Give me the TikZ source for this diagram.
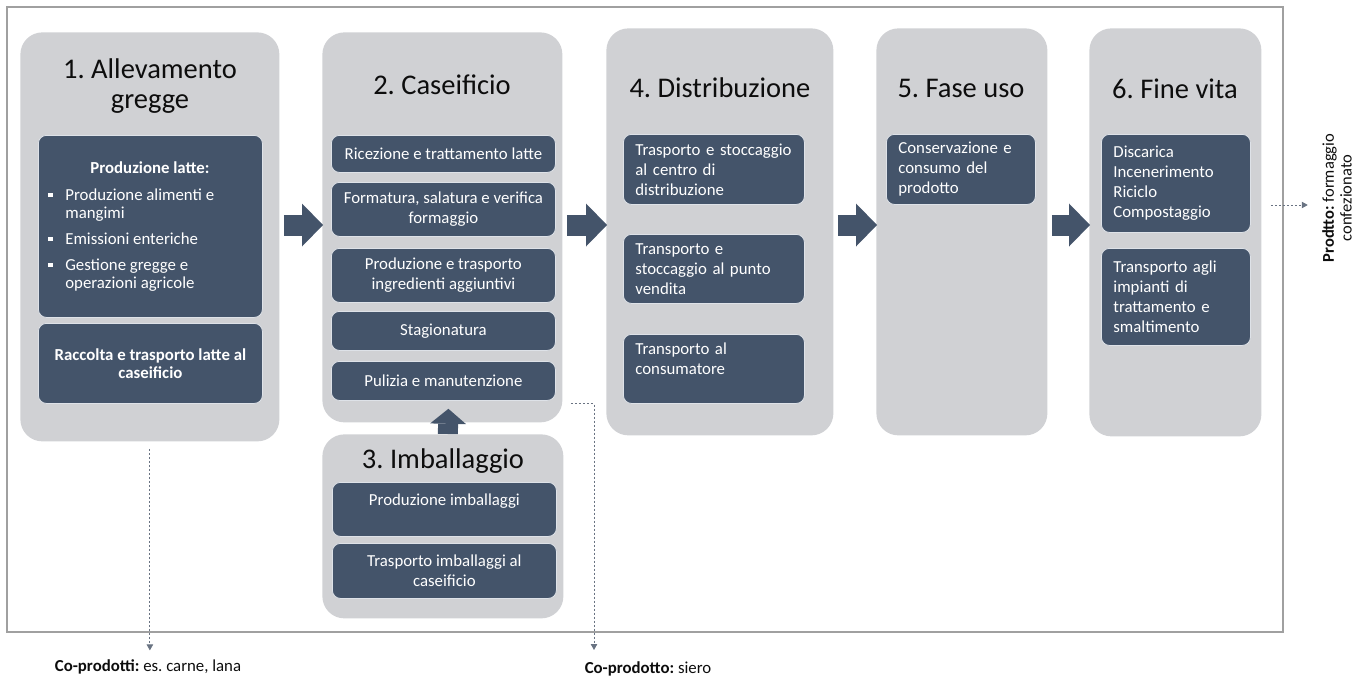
\documentclass[tikz,border=0pt]{standalone}
\usepackage{fontspec}
\setmainfont{Carlito}
\usetikzlibrary{arrows.meta,calc}
\frenchspacing

\definecolor{phasegray}{RGB}{208,209,212}
\definecolor{stepblue}{RGB}{68,84,106}
\definecolor{stepedge}{RGB}{222,226,232}
\definecolor{framegray}{RGB}{160,160,160}
\definecolor{dashgray}{RGB}{105,115,130}
\definecolor{titleblack}{RGB}{13,13,13}

\newcommand{\titlefont}{\fontsize{28.5}{31}\selectfont}
\newcommand{\stepfont}{\fontsize{16.8}{20}\selectfont}
\newcommand{\notefont}{\fontsize{16.8}{18}\selectfont}
\newcommand{\bul}{\makebox[17pt][l]{\rule[3pt]{4.5pt}{4.5pt}}}
\newcommand{\ind}{\hspace*{17pt}}

\tikzset{every picture/.style={line width=0.75pt}}
\tikzset{
  phase/.style={fill=phasegray, rounded corners=22pt, anchor=north west, inner sep=0pt},
  phasetitle/.style={anchor=base, inner sep=0pt, font=\titlefont, text=titleblack},
  stepbox/.style={fill=stepblue, draw=stepedge, line width=0.8pt, rounded corners=8pt, anchor=north west, inner xsep=6pt, inner ysep=0pt, text=white, font=\stepfont, align=center},
  stepleft/.style={stepbox, inner xsep=12pt, align=left},
  bigarrow/.style={stepblue, line width=21pt, -{Triangle[length=21pt,width=43pt,line width=0pt]}},
  uparrow/.style={stepblue, line width=20pt, -{Triangle[length=15pt,width=36pt,line width=0pt]}},
  dashline/.style={dashgray, line width=0.8pt, dash pattern=on 2.5pt off 1.5pt, -{Triangle[length=6pt,width=6.5pt]}},
  note/.style={inner sep=0pt, font=\notefont, align=center, text=titleblack}
}

\begin{document}
\begin{tikzpicture}[x=1pt,y=1pt,yscale=-1]
\useasboundingbox (0,0) rectangle (1364,680);

%Frame
\draw[framegray, line width=1.5pt] (7,7) rectangle (1283,632);

%Phase boxes
\node[phase, minimum width=259, minimum height=409] (phase1) at (20,32) {};
\node[phase, minimum width=240, minimum height=390] (phase2) at (322,32) {};
\node[phase, minimum width=241, minimum height=184] (phase3) at (322,434) {};
\node[phase, minimum width=227, minimum height=407] (phase4) at (606,28) {};
\node[phase, minimum width=171, minimum height=407] (phase5) at (876,28) {};
\node[phase, minimum width=172, minimum height=408] (phase6) at (1089,28) {};

% Text Node
\node[phasetitle] (title1) at (150,78) {1. Allevamento};
\node[phasetitle] (title1b) at (150,108) {gregge};
\node[phasetitle] (title2) at (442,94) {2. Caseificio};
\node[phasetitle] (title3) at (443,468) {3. Imballaggio};
\node[phasetitle] (title4) at (720,97) {4. Distribuzione};
\node[phasetitle] (title5) at (961,97) {5. Fase uso};
\node[phasetitle] (title6) at (1175,98) {6. Fine vita};

%1. Allevamento gregge
\node[stepbox, minimum width=224, minimum height=182] (latte) at (38,135) {};
\node[anchor=base, inner sep=0pt, font=\stepfont\bfseries, text=white] (lattehead) at (150,173) {Produzione latte:};
\node[anchor=north west, inner sep=0pt, font=\fontsize{16.8}{18}\selectfont, text=white, align=left] (lattelist) at (48,188)
  {\bul Produzione alimenti e\\\ind mangimi\\[8pt]\bul Emissioni enteriche\\[8pt]\bul Gestione gregge e\\\ind operazioni agricole};
\node[stepbox, minimum width=224, minimum height=80, font=\fontsize{16.8}{18}\selectfont\bfseries] (raccolta) at (38,323) {Raccolta e trasporto latte al\\caseificio};

%2. Caseificio
\node[stepbox, minimum width=224, minimum height=37] (ricezione) at (331,135) {Ricezione e trattamento latte};
\node[stepbox, minimum width=224, minimum height=54] (formatura) at (331,182) {Formatura, salatura e verifica\\formaggio};
\node[stepbox, minimum width=224, minimum height=54] (ingredienti) at (331,248) {Produzione e trasporto\\ingredienti aggiuntivi};
\node[stepbox, minimum width=224, minimum height=39] (stagionatura) at (331,311) {Stagionatura};
\node[stepbox, minimum width=224, minimum height=39] (pulizia) at (331,361) {Pulizia e manutenzione};

%3. Imballaggio
\node[stepbox, minimum width=224, minimum height=54] (prodimb) at (332,482) {Produzione imballaggi\\\mbox{}};
\node[stepbox, minimum width=224, minimum height=55] (trasimb) at (332,543) {Trasporto imballaggi al\\caseificio};

%4. Distribuzione
\node[stepleft, text width=157, minimum height=70] (centro) at (623,134) {Trasporto e stoccaggio\\al centro di\\distribuzione};
\node[stepleft, text width=157, minimum height=69] (puntovendita) at (623,234) {Transporto e\\stoccaggio al punto\\vendita};
\node[stepleft, text width=157, minimum height=69] (consumatore) at (623,334) {Transporto al\\consumatore\\\mbox{}};

%5. Fase uso
\node[stepleft, text width=125, minimum height=70] (conservazione) at (886,134) {Conservazione e\\consumo del\\prodotto};

%6. Fine vita
\node[stepleft, text width=125, minimum height=98] (trattamento) at (1101,134) {Discarica\\Incenerimento\\Riciclo\\Compostaggio};
\node[stepleft, text width=125, minimum height=97] (impianti) at (1101,248) {Transporto agli\\impianti di\\trattamento e\\smaltimento};

%Block arrows
\coordinate (arrowrow) at (0,225);
\foreach \a/\b in {phase1/phase2, phase2/phase4, phase4/phase5, phase5/phase6}
  \draw[bigarrow] ($(\a.east |- arrowrow)+(4,0)$) -- ($(\b.west |- arrowrow)+(1,0)$);
\draw[uparrow] ($(phase3.north)+(5,0)$) -- ($(pulizia.south)+(5,8)$);

% Text Node
\node[note] (coprodotti) at (148,667) {\textbf{Co-prodotti:} es. carne, lana};
\node[note] (siero) at (648,669) {\textbf{Co-prodotto:} siero};
\node[note, font=\fontsize{16.5}{17.5}\selectfont, rotate=90] (prodotto) at (1337,198) {\textbf{Prodtto:} formaggio\\confezionato};

%Dashed lines
\coordinate (sierotip) at (594,650);
\coordinate (prodrow) at (0,205);
\coordinate (prodstart) at ($(phase6.east |- prodrow)+(9,0)$);
\coordinate (prodtip) at ($(prodstart)+(37,0)$);
\draw[dashline] ($(phase1.south)+(0,7)$) -- ($(phase1.south |- coprodotti.north)+(0,-9)$);
\draw[dashline] ($(pulizia.south east)+(15,3)$) -| (sierotip);
\draw[dashline] (prodstart) -- (prodtip);

\end{tikzpicture}
\end{document}
